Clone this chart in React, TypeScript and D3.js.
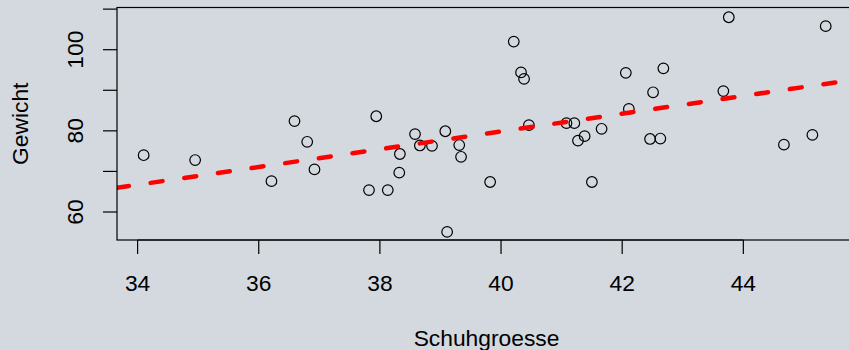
import React, { useEffect, useRef } from 'react';
import * as d3 from 'd3';

// shoe size vs weight
const schuhgroesse = [
  34.1, 34.95, 36.21, 36.59, 36.8, 36.92,
  37.82, 37.94, 38.13, 38.32, 38.33, 38.58, 38.66, 38.86, 39.08, 39.11, 39.31, 39.34, 39.82,
  40.21, 40.33, 40.38, 40.46, 41.08, 41.21, 41.27, 41.38, 41.5, 41.66,
  42.06, 42.11, 42.46, 42.51, 42.63, 42.68, 43.67, 43.76, 44.67, 45.14, 45.36,
];
const gewicht = [
  74.0, 72.8, 67.6, 82.4, 77.3, 70.5,
  65.4, 83.6, 65.4, 69.7, 74.3, 79.2, 76.4, 76.3, 79.9, 55.1, 76.5, 73.6, 67.4,
  102.0, 94.4, 92.8, 81.4, 81.9, 81.9, 77.6, 78.7, 67.4, 80.5,
  94.3, 85.4, 78.0, 89.5, 78.1, 95.4, 89.8, 108.0, 76.6, 79.0, 105.8,
];

const xTicks = [34, 36, 38, 40, 42, 44];
const yTicks = [60, 70, 80, 90, 100, 110];
const yTickLabels = [60, 80, 100];

// regression line (abline) coefficients
const intercept = -7.75;
const slope = 2.19;

const xLabel = 'Schuhgroesse';
const yLabel = 'Gewicht';

const W = 849;
const H = 350;

const App = () => {
  const svgRef = useRef<SVGSVGElement | null>(null);

  useEffect(() => {
    document.body.style.margin = '0';
    const svg = d3.select(svgRef.current);
    svg.selectAll('*').remove();

    const plot = { left: 117, top: 7.5, right: 856, bottom: 240 };
    const font = '"Liberation Sans", Arial, Helvetica, sans-serif';
    const fs = '22.8px';

    const x = d3.scaleLinear().domain([33.66, 45.86]).range([plot.left, plot.right]);
    const y = d3.scaleLinear().domain([53.1, 110.4]).range([plot.bottom, plot.top]);

    svg.append('rect').attr('width', W).attr('height', H).attr('fill', '#d3d9df');

    svg.append('clipPath').attr('id', 'plotclip')
      .append('rect')
      .attr('x', plot.left).attr('y', plot.top)
      .attr('width', plot.right - plot.left).attr('height', plot.bottom - plot.top);

    // points
    svg.append('g')
      .selectAll('circle')
      .data(schuhgroesse.map((s, i) => ({ s, g: gewicht[i] })))
      .enter()
      .append('circle')
      .attr('cx', d => x(d.s))
      .attr('cy', d => y(d.g))
      .attr('r', 5.3)
      .attr('fill', 'none')
      .attr('stroke', '#000')
      .attr('stroke-width', 1.2);

    // dashed regression line
    const [x0, x1] = x.domain();
    const line = d3.line<number>().x(v => x(v)).y(v => y(intercept + slope * v));
    svg.append('path')
      .datum([x0, x1])
      .attr('clip-path', 'url(#plotclip)')
      .attr('d', line)
      .attr('fill', 'none')
      .attr('stroke', '#ff0000')
      .attr('stroke-width', 4.5)
      .attr('stroke-linecap', 'round')
      .attr('stroke-dasharray', '12 22');

    // box
    svg.append('rect')
      .attr('x', plot.left).attr('y', plot.top)
      .attr('width', plot.right - plot.left).attr('height', plot.bottom - plot.top)
      .attr('fill', 'none').attr('stroke', '#000').attr('stroke-width', 1.2);

    // x axis
    const gx = svg.append('g');
    gx.append('line')
      .attr('x1', x(xTicks[0])).attr('x2', x(xTicks[xTicks.length - 1]))
      .attr('y1', plot.bottom).attr('y2', plot.bottom)
      .attr('stroke', '#000').attr('stroke-width', 1.2);
    gx.selectAll('.tick')
      .data(xTicks)
      .enter()
      .append('line')
      .attr('x1', d => x(d)).attr('x2', d => x(d))
      .attr('y1', plot.bottom).attr('y2', plot.bottom + 14)
      .attr('stroke', '#000').attr('stroke-width', 1.2);
    gx.selectAll('.lbl')
      .data(xTicks)
      .enter()
      .append('text')
      .attr('x', d => x(d))
      .attr('y', 291)
      .attr('text-anchor', 'middle')
      .style('font-family', font)
      .style('font-size', fs)
      .text(d => d);

    // y axis
    const gy = svg.append('g');
    gy.selectAll('.tick')
      .data(yTicks)
      .enter()
      .append('line')
      .attr('x1', plot.left - 14).attr('x2', plot.left)
      .attr('y1', d => y(d)).attr('y2', d => y(d))
      .attr('stroke', '#000').attr('stroke-width', 1.2);
    gy.selectAll('.lbl')
      .data(yTickLabels)
      .enter()
      .append('text')
      .attr('transform', d => `translate(83.3,${y(d)}) rotate(-90)`)
      .attr('text-anchor', 'middle')
      .style('font-family', font)
      .style('font-size', fs)
      .text(d => d);

    // axis titles
    svg.append('text')
      .attr('x', (plot.left + plot.right) / 2)
      .attr('y', 346)
      .attr('text-anchor', 'middle')
      .style('font-family', font)
      .style('font-size', fs)
      .text(xLabel);

    svg.append('text')
      .attr('transform', `translate(27.5,${(plot.top + plot.bottom) / 2}) rotate(-90)`)
      .attr('text-anchor', 'middle')
      .style('font-family', font)
      .style('font-size', fs)
      .text(yLabel);
  }, []);

  return (
    <div style={{ position: 'relative' }}>
      <svg ref={svgRef} width={W} height={H} style={{ display: 'block' }} />
    </div>
  );
};

export default App;
